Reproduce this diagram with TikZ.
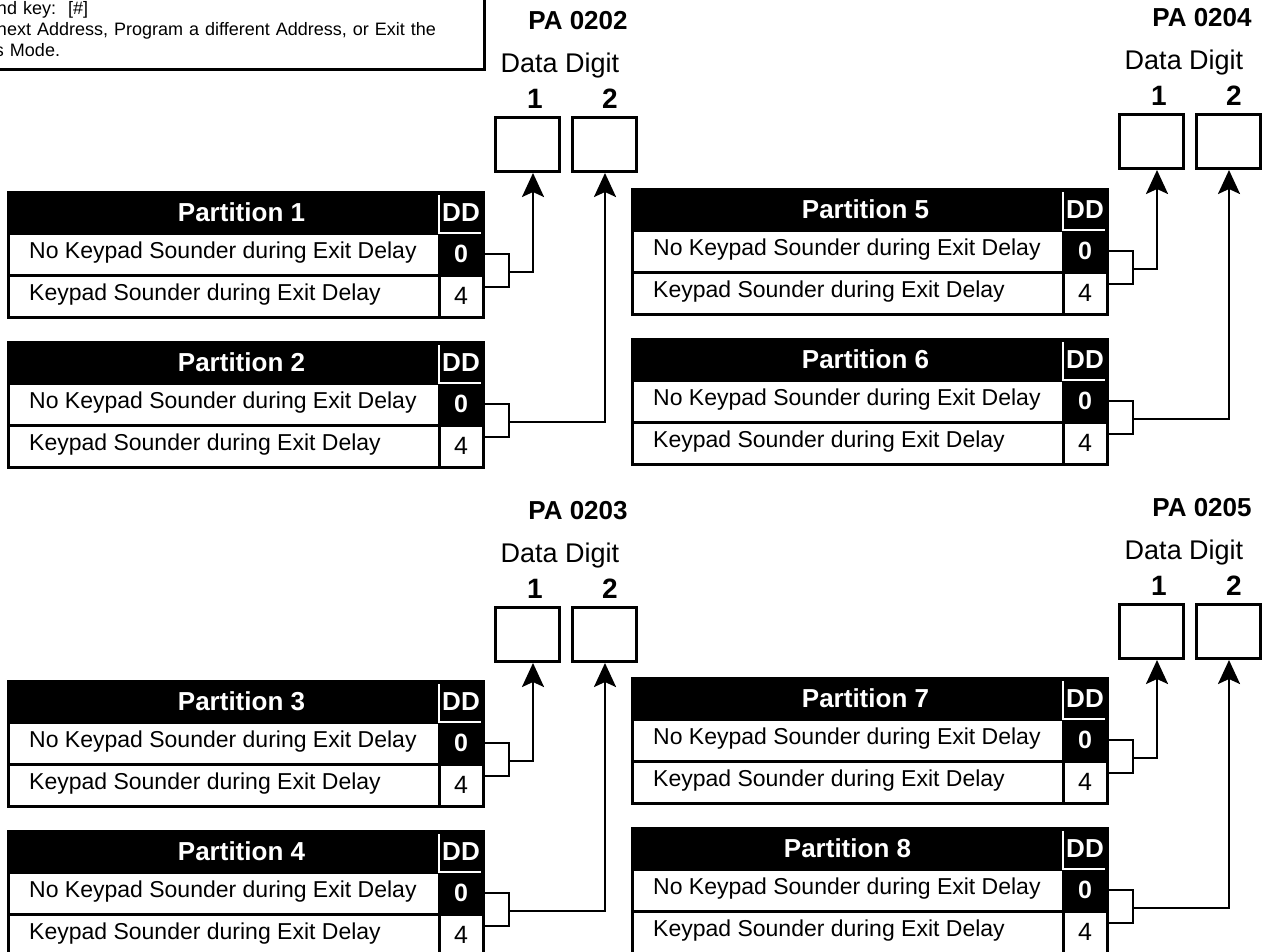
\documentclass[tikz,border=0pt]{standalone}
\usepackage{fontspec}
\setmainfont{Liberation Sans}
\usepackage{tikz}
\usetikzlibrary{arrows.meta,positioning}
\tikzset{
  cell/.style ={draw, line width=3pt, outer sep=0pt, inner sep=0pt, minimum height=42pt},
  hdr/.style  ={cell, fill=black, text=white, minimum height=41pt,
                font=\bfseries\fontsize{26}{30}\selectfont},
  lbl/.style  ={cell, minimum width=431pt},
  val/.style  ={cell, minimum width=44pt, font=\fontsize{25}{29}\selectfont},
  ttl/.style  ={text=white, inner sep=0pt, font=\bfseries\fontsize{26}{30}\selectfont},
  rowtxt/.style={anchor=base west, inner sep=0pt, font=\fontsize{23}{27}\selectfont},
  dbox/.style ={draw, line width=3pt, outer sep=0pt, minimum width=64pt, minimum height=54pt},
  pa/.style   ={anchor=base, inner sep=0pt, font=\bfseries\fontsize{26}{30}\selectfont},
  ddig/.style ={anchor=base, inner sep=0pt, font=\fontsize{27}{31}\selectfont},
  dnum/.style ={anchor=base, inner sep=0pt, font=\bfseries\fontsize{28}{32}\selectfont},
  sep/.style  ={white, line width=1.5pt},
  conn/.style ={line width=2.5pt},
  arrow/.style={conn, -{Stealth[length=24pt, width=22pt, inset=5pt]}},
  note/.style ={draw, line width=3pt, outer sep=0pt, inner xsep=19pt, inner ysep=12pt,
                text width=468pt, align=left, font=\fontsize{18}{21}\selectfont},
}

\begin{document}
\begin{tikzpicture}[x=1pt, y=-1pt]
  \useasboundingbox (0,0) rectangle (1264,951);
  \clip (0,0) rectangle (1264,951);
  % note box, cut off by the page edge
  \node[note, anchor=south east] (note) at (484,69)
    {nd key:\ \ [\#]\\next Address, Program a different Address, or Exit the\\\hspace*{-2pt}s Mode.};
  % data digit boxes
  \foreach \g/\x/\y/\addr in {A/495/117/0202, B/495/607/0203, C/1119/114/0204, D/1119/604/0205} {
    \node[dbox, anchor=north west] (\g1) at (\x,\y) {};
    \node[dbox, right=13pt of \g1] (\g2) {};
    \node[dnum] (n\g1) at ([xshift=8pt, yshift=9pt]\g1.north) {1};
    \node[dnum] (n\g2) at ([xshift=6pt, yshift=9pt]\g2.north) {2};
    \node[ddig] (lab\g) at ([xshift=65pt, yshift=45pt]\g1.north west) {Data Digit};
    \node[pa] (pa\g) at ([xshift=83pt, yshift=88pt]\g1.north west) {PA \addr};
  }
  % partition tables
  \foreach \n/\x/\y/\dx/\tg/\tx in {1/8/192/18/A1/6, 2/8/342/18/A2/1, 3/8/681/18/B1/6,
      4/8/831/18/B2/1, 5/632/189/18/C1/6, 6/632/339/18/C2/1, 7/632/678/18/D1/6, 8/632/828/0/D2/1} {
    \node[hdr, minimum width=431pt, anchor=north west,
          label={[ttl, xshift=\dx pt]center:Partition \n}] (h\n) at (\x,\y) {};
    \node[hdr, minimum width=44pt, anchor=north west] (dd\n) at (h\n.north east) {DD};
    \node[lbl, anchor=north west] (a\n) at (h\n.south west) {};
    \node[val, anchor=north west, fill=black, text=white,
          font=\bfseries\fontsize{25}{29}\selectfont] (va\n) at (a\n.north east) {0};
    \node[lbl, anchor=north west] (b\n) at (a\n.south west) {};
    \node[val, anchor=north west] (vb\n) at (b\n.north east) {4};
    \node[rowtxt] (ta\n) at ([xshift=21pt, yshift=-25pt]a\n.north west) {No Keypad Sounder during Exit Delay};
    \node[rowtxt] (tb\n) at ([xshift=21pt, yshift=-25pt]b\n.north west) {Keypad Sounder during Exit Delay};
    \draw[sep] ([yshift=-3pt]dd\n.north west) -- (dd\n.south west) -- ([xshift=-2pt]dd\n.south east);
    % bracket on the DD column, then up to the digit box
    \draw[conn] (va\n.east) -- ++(26,0) coordinate (k\n) |- ([yshift=9pt]vb\n.east);
    \coordinate (j\n) at ([yshift=-18pt]k\n);
    \draw[arrow] (j\n) -| ([xshift=\tx pt, yshift=-2pt]\tg.south);
  }
\end{tikzpicture}
\end{document}
